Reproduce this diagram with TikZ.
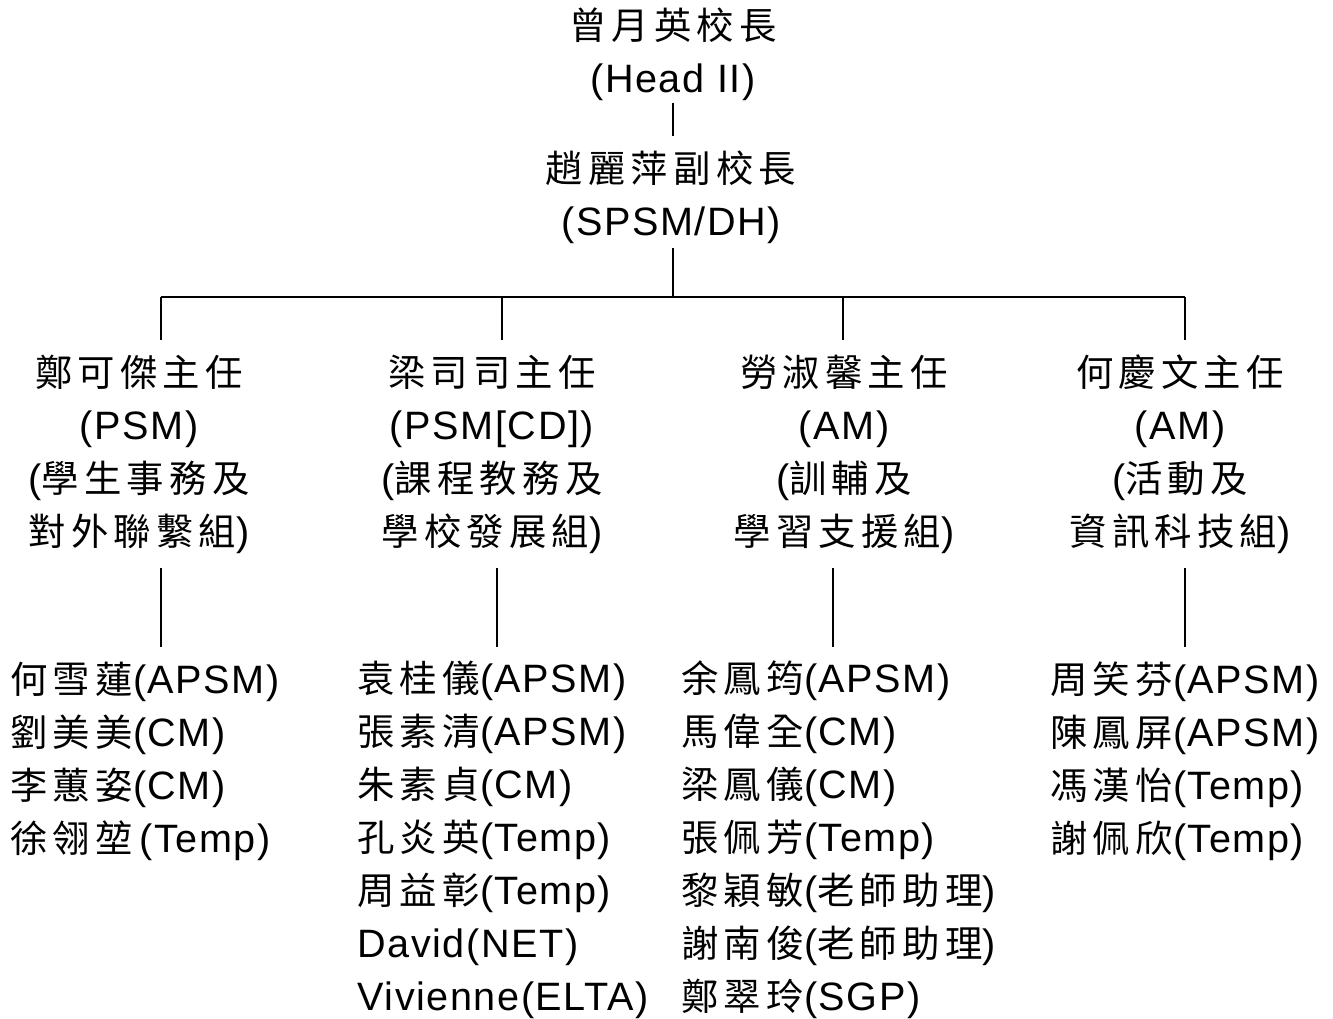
\documentclass[tikz,border=0pt]{standalone}
\usepackage{fontspec}
\setmainfont{Liberation Sans}[LetterSpace=4]
\newfontfamily\zhfont{Noto Sans CJK TC}[Scale=0.944,LetterSpace=14]
\newcommand{\zh}[1]{{\zhfont #1}}

\begin{document}
\begin{tikzpicture}[x=0.5pt,y=-0.5pt]

\useasboundingbox (0,0) rectangle (1333,1018);

\tikzset{
    post block/.style={
        align=center, inner xsep=0pt, inner ysep=7pt,
        font=\fontsize{19.8}{26.5}\selectfont
    },
    staff block/.style={
        post block, align=left, anchor=west
    },
    org line/.style={
        draw=black, line width=1pt
    }
}

% Principal and deputy
\node[post block] (head) at (673,54) {\zh{曾月英校長}\\(Head II)};
\node[post block] (deputy) at (671,197) {\zh{趙麗萍副校長}\\(SPSM/DH)};

% Section heads
\node[post block] (m1) at (139,454) {\zh{鄭可傑主任}\\(PSM)\\(\zh{學生事務及}\\\zh{對外聯繫組})};
\node[post block] (m2) at (492,454) {\zh{梁司司主任}\\(PSM[CD])\\(\zh{課程教務及}\\\zh{學校發展組})};
\node[post block] (m3) at (844,454) {\zh{勞淑馨主任}\\(AM)\\(\zh{訓輔及}\\\zh{學習支援組})};
\node[post block] (m4) at (1180,454) {\zh{何慶文主任}\\(AM)\\(\zh{活動及}\\\zh{資訊科技組})};

% Staff of each section
\node[staff block] (s1) at (10,761) {\zh{何雪蓮}(APSM)\\\zh{劉美美}(CM)\\\zh{李蕙姿}(CM)\\\zh{徐翎堃}\,(Temp)};
\node[staff block] (s2) at (357,840) {\zh{袁桂儀}(APSM)\\\zh{張素清}(APSM)\\\zh{朱素貞}(CM)\\\zh{孔炎英}(Temp)\\\zh{周益彰}(Temp)\\David(NET)\\Vivienne(ELTA)};
\node[staff block] (s3) at (681,840) {\zh{余鳳筠}(APSM)\\\zh{馬偉全}(CM)\\\zh{梁鳳儀}(CM)\\\zh{張佩芳}(Temp)\\\zh{黎穎敏}(\zh{老師助理})\\\zh{謝南俊}(\zh{老師助理})\\\zh{鄭翠玲}(SGP)};
\node[staff block] (s4) at (1050,761) {\zh{周笑芬}(APSM)\\\zh{陳鳳屏}(APSM)\\\zh{馮漢怡}(Temp)\\\zh{謝佩欣}(Temp)};

% --- connectors ---
\coordinate (bus) at (673,297);
\foreach \i/\dx/\lx in {1/161/161, 2/502/497, 3/843/833, 4/1185/1185}{
    \coordinate (j\i) at (\dx,297);
    \coordinate (k\i) at (\lx,0);
}

\draw[org line, shorten <=-6pt] (head.south) -- (head.south |- deputy.north);
\draw[org line, shorten <=-5pt] (deputy.south -| bus) -- (bus);
\draw[org line] (j1) -- (j4);

\foreach \i in {1,...,4}{
    \draw[org line] (j\i) -- (j\i |- m\i.north);
    \draw[org line] (k\i |- m\i.south) -- (k\i |- s\i.north);
}

\end{tikzpicture}
\end{document}
